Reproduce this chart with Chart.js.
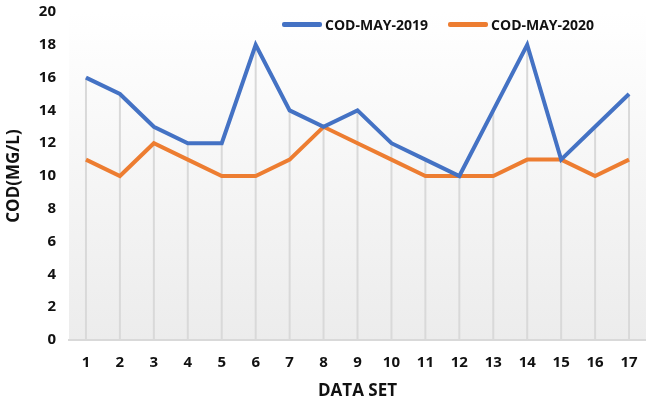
<!DOCTYPE html>
<html><head><meta charset="utf-8">
<script src="https://cdn.jsdelivr.net/npm/chart.js@4/dist/chart.umd.min.js"></script>
<style>
html,body{margin:0;padding:0;background:#fff;}
#wrap{position:relative;width:646px;height:405px;}
#legend{position:absolute;top:15px;left:282px;font:bold 14px "Open Sans", sans-serif;color:#111;display:flex;align-items:center;}
.item{display:flex;align-items:center;margin-right:20px;}
.sw{display:inline-block;width:40px;height:5px;margin-right:3px;border-radius:2px;}
</style></head>
<body><div id="wrap"><canvas id="c" width="646" height="405"></canvas>
<div id="legend"></div></div>
<script>
const categories = ['1','2','3','4','5','6','7','8','9','10','11','12','13','14','15','16','17'];
const cod2019 = [16,15,13,12,12,18,14,13,14,12,11,10,14,18,11,13,15];
const cod2020 = [11,10,12,11,10,10,11,13,12,11,10,10,10,11,11,10,11];
const seriesNames = ['COD-MAY-2019','COD-MAY-2020'];
const colors = ['#4472C4','#ED7D31'];
const FONT = '"Open Sans", sans-serif';

const leg = document.getElementById('legend');
seriesNames.forEach((n,i)=>{
  const d=document.createElement('div');d.className='item';
  d.innerHTML='<span class="sw" style="background:'+colors[i]+'"></span><span>'+n+'</span>';
  leg.appendChild(d);
});

const bgPlugin = {
  id:'bg',
  beforeDraw(chart){
    const {ctx, chartArea:a} = chart;
    const g = ctx.createLinearGradient(0,a.top,0,a.bottom);
    g.addColorStop(0,'#ffffff');
    g.addColorStop(1,'#ececec');
    ctx.save(); ctx.fillStyle=g; ctx.fillRect(a.left,a.top,a.right-a.left,a.bottom-a.top); ctx.restore();
  },
  beforeDatasetsDraw(chart){
    const {ctx, scales:{x,y}} = chart;
    ctx.save(); ctx.strokeStyle='#d9d9d9'; ctx.lineWidth=2;
    categories.forEach((c,i)=>{
      const px = x.getPixelForValue(i);
      const top = y.getPixelForValue(Math.max(cod2019[i],cod2020[i]));
      ctx.beginPath(); ctx.moveTo(px,top); ctx.lineTo(px,y.getPixelForValue(0)); ctx.stroke();
    });
    ctx.restore();
  }
};

new Chart(document.getElementById('c'),{
  type:'line',
  data:{labels:categories,datasets:[
    {label:seriesNames[0],data:cod2019,borderColor:colors[0],backgroundColor:colors[0],borderWidth:4,pointRadius:0,tension:0},
    {label:seriesNames[1],data:cod2020,borderColor:colors[1],backgroundColor:colors[1],borderWidth:4,pointRadius:0,tension:0}
  ]},
  options:{
    responsive:false,animation:false,
    layout:{padding:{top:12,right:0,left:0,bottom:0}},
    plugins:{legend:{display:false},tooltip:{enabled:false}},
    scales:{
      x:{offset:true,
        grid:{display:false,drawTicks:false},
        border:{display:true,color:'#d9d9d9',width:2},
        ticks:{color:'#111',font:{family:FONT,size:15,weight:'bold'},padding:14,maxRotation:0},
        title:{display:true,text:'DATA SET',color:'#111',font:{family:FONT,size:17,weight:'bold'},padding:{top:0,bottom:4}},
        afterFit(s){s.height=65;s.paddingLeft=0;s.paddingRight=0;}
      },
      y:{min:0,max:20,
        grid:{display:false,drawTicks:false},
        border:{display:false},
        ticks:{stepSize:2,color:'#111',font:{family:FONT,size:15,weight:'bold'},padding:13},
        title:{display:true,text:'COD(MG/L)',color:'#111',font:{family:FONT,size:17,weight:'bold'},padding:{bottom:0}},
        afterFit(s){s.width=69;s.paddingTop=0;s.paddingBottom=0;}
      }
    }
  },
  plugins:[bgPlugin]
});
</script></body></html>
